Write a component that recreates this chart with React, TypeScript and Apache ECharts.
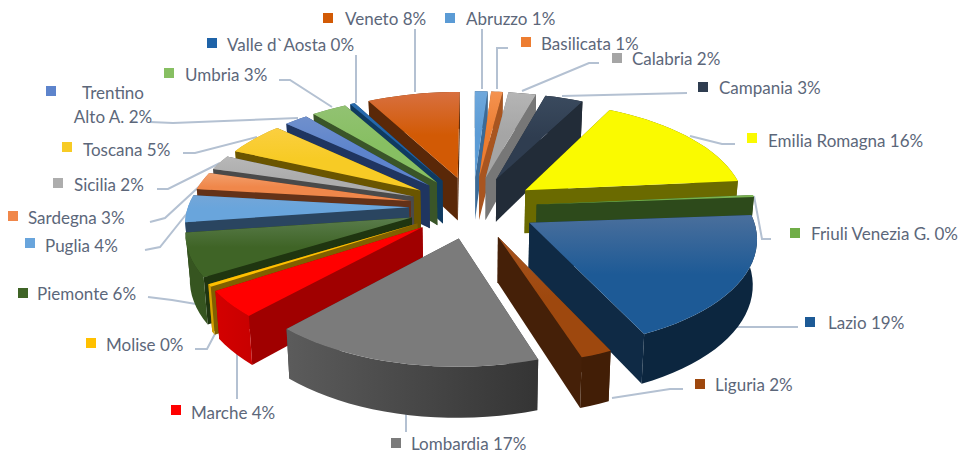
import React, { useEffect, useRef } from "react";
import * as echarts from "echarts";

const regions = ["Abruzzo","Basilicata","Calabria","Campania","Emilia Romagna","Friuli Venezia G.","Lazio","Liguria","Lombardia","Marche","Molise","Piemonte","Puglia","Sardegna","Sicilia","Toscana","Trentino\nAlto A.","Umbria","Valle d`Aosta","Veneto"];
const shares = [1.1,1.0,2.4,3.3,15.8,0.3,19.0,2.0,17.2,4.0,0.4,6.4,4.0,2.6,2.2,5.0,2.0,3.0,0.4,8.0];
const topColors = ["#5b9bd5","#ed7d31","#a5a5a5","#2f3d50","#fafa00","#70ad47","#1d5a96","#9e480e","#7b7b7b","#ff0000","#ffc000","#3f6426","#69a5dc","#f0874a","#adadad","#f7cb25","#5d84cc","#87bf62","#1f63a8","#d25a05"];
const glowColors = ["#6fa8dc","#f4924f","#b5b5b5","#3a4a5e","#fafa00","#80b858","#4a6f9c","#a85520","#7b7b7b","#ff0000","#ffc000","#5a7c4c","#74a6d8","#f2a06e","#b8b8b8","#fbcf40","#7090cc","#92c272","#2a6cae","#d87040"];
const sideColors = ["#3c6a96","#a85520","#777777","#222c38","#6a6a00","#2d4a1b","#0f2a45","#452008","#3d3d3d","#a00000","#806000","#1f3510","#2a4560","#643218","#4a4a4a","#6a5500","#1f3560","#3a5528","#0f3a60","#5a2808"];

const W = 963, H = 455;
const CX = 473, CY = 207;
const RADIUS = 221, EXPLODE = 64, TILT = 0.485, PERSP = 0.00057, DEPTH = 44, DEPTH_IN = 0.015;

const labelLayout = [
  { key: [445, 13], text: [466, 18], lead: [[482, 29], [482, 89]] },
  { key: [521, 37], text: [541, 43], lead: [[508, 48], [497, 48], [497, 89]] },
  { key: [612, 53], text: [632, 58], lead: [[599, 63], [589, 63], [522, 91]] },
  { key: [698, 82], text: [719, 87], lead: [[687, 93], [562, 96]] },
  { key: [747, 133], text: [768, 140], lead: [[735, 144], [722, 144], [690, 136]] },
  { key: [790, 228], text: [811, 233], lead: [[771, 239], [762, 239], [754, 196]] },
  { key: [805, 317], text: [828, 322], lead: [[798, 327], [737, 327]] },
  { key: [695, 379], text: [715, 384], lead: [[683, 389], [670, 389], [612, 398]] },
  { key: [391, 438], text: [411, 443], lead: [[406, 432], [406, 414]] },
  { key: [171, 405], text: [191, 412], lead: [[237, 399], [237, 352]] },
  { key: [86, 338], text: [106, 344], lead: [[195, 349], [207, 349], [216, 332]] },
  { key: [18, 288], text: [37, 293], lead: [[148, 297], [172, 300], [196, 304]] },
  { key: [25, 238], text: [45, 245], lead: [[145, 250], [160, 247], [188, 212]] },
  { key: [8, 211], text: [28, 217], lead: [[150, 222], [165, 218], [203, 183]] },
  { key: [53, 178], text: [74, 184], lead: [[157, 189], [168, 189], [220, 163]] },
  { key: [62, 142], text: [83, 149], lead: [[183, 153], [195, 153], [257, 137]] },
  { key: [46, 86], text: [113, 104], center: true, lead: [[150, 122], [173, 123], [298, 118]] },
  { key: [164, 68], text: [185, 74], lead: [[279, 80], [290, 80], [332, 107]] },
  { key: [207, 38], text: [227, 44], lead: [[356, 55], [356, 103]] },
  { key: [323, 13], text: [345, 18], lead: [[415, 29], [415, 92]] },
];

const total = shares.reduce((a, b) => a + b, 0);
const slices = (() => {
  let acc = 0;
  return shares.map((v, i) => {
    const a0 = (acc / total) * Math.PI * 2;
    acc += v;
    const a1 = (acc / total) * Math.PI * 2;
    return { i, a0, a1, mid: (a0 + a1) / 2 };
  });
})();
const drawOrder = slices.slice().sort((p, q) => Math.cos(q.mid) - Math.cos(p.mid));

function project(x: number, y: number, down: boolean) {
  const s = 1 - y * PERSP;
  if (!down) return [CX + x * s, CY - y * TILT * s];
  const k = 1 - DEPTH_IN;
  return [CX + x * s * k, CY - y * TILT * s + DEPTH * s];
}

function shade(hex: string, f: number) {
  const n = parseInt(hex.slice(1), 16);
  const c = [(n >> 16) & 255, (n >> 8) & 255, n & 255].map((v) => Math.round(v * f));
  return `rgb(${c[0]},${c[1]},${c[2]})`;
}

function renderSlice(params: any) {
  const sl = drawOrder[params.dataIndex];
  const ox = EXPLODE * Math.sin(sl.mid);
  const oy = EXPLODE * Math.cos(sl.mid);
  const steps = Math.max(3, Math.ceil(((sl.a1 - sl.a0) / Math.PI) * 60));
  const world: number[][] = [];
  for (let k = 0; k <= steps; k++) {
    const a = sl.a0 + ((sl.a1 - sl.a0) * k) / steps;
    world.push([ox + RADIUS * Math.sin(a), oy + RADIUS * Math.cos(a)]);
  }
  const up = world.map((p) => project(p[0], p[1], false));
  const low = world.map((p) => project(p[0], p[1], true));
  const tipUp = project(ox, oy, false);
  const tipLow = project(ox, oy, true);
  const side = sideColors[sl.i];
  const base = topColors[sl.i];
  const outerFill = new echarts.graphic.LinearGradient(200, 0, 540, 0, [
    { offset: 0, color: shade(base, 0.85) },
    { offset: 1, color: shade(base, 0.42) },
  ], true);
  const walls = [
    {
      d: oy + (RADIUS / 2) * Math.cos(sl.a0),
      el: { type: "polygon", shape: { points: [tipUp, up[0], low[0], tipLow] }, style: { fill: side } },
    },
    {
      d: oy + (RADIUS / 2) * Math.cos(sl.a1),
      el: { type: "polygon", shape: { points: [tipUp, up[steps], low[steps], tipLow] }, style: { fill: side } },
    },
    {
      d: oy + RADIUS * Math.cos(sl.mid),
      el: { type: "polygon", shape: { points: up.concat(low.slice().reverse()) }, style: { fill: outerFill } },
    },
  ].sort((p, q) => q.d - p.d);
  const top = {
    type: "polygon",
    shape: { points: [tipUp].concat(up) },
    style: {
      fill: new echarts.graphic.LinearGradient(0, 0, 0, 1, [
        { offset: 0, color: glowColors[sl.i] },
        { offset: 0.5, color: base },
        { offset: 1, color: base },
      ]),
    },
  };
  return { type: "group", children: walls.map((w) => w.el).concat([top as any]) };
}

const FONT = '17px Lato, "Open Sans", sans-serif';
const TEXT_COLOR = "#5c677a";
const LEAD_COLOR = "#b4c1d2";

function labelGraphics() {
  const out: any[] = [];
  labelLayout.forEach((l: any, i) => {
    out.push({
      type: "polyline",
      silent: true,
      z: 1,
      shape: { points: l.lead },
      style: { stroke: LEAD_COLOR, lineWidth: 2, fill: "none" },
    });
    out.push({
      type: "rect",
      silent: true,
      z: 1,
      shape: { x: l.key[0], y: l.key[1], width: 10, height: 10 },
      style: { fill: topColors[i] },
    });
    out.push({
      type: "text",
      silent: true,
      z: 1,
      x: l.text[0],
      y: l.text[1],
      style: {
        text: `${regions[i]} ${Math.round(shares[i])}%`,
        font: FONT,
        fill: TEXT_COLOR,
        align: l.center ? "center" : "left",
        verticalAlign: "middle",
        lineHeight: 24,
      },
    });
  });
  return out;
}

export default function App() {
  const ref = useRef<HTMLDivElement>(null);
  useEffect(() => {
    document.body.style.margin = "0";
    const chart = echarts.init(ref.current!, undefined, { renderer: "svg" });
    chart.setOption({
      animation: false,
      backgroundColor: "#ffffff",
      graphic: labelGraphics(),
      series: [
        {
          type: "custom",
          coordinateSystem: "none",
          silent: true,
          renderItem: renderSlice,
          data: drawOrder.map((s) => shares[s.i]),
        },
      ],
    });
    return () => chart.dispose();
  }, []);
  return <div ref={ref} style={{ width: W, height: H }} />;
}
